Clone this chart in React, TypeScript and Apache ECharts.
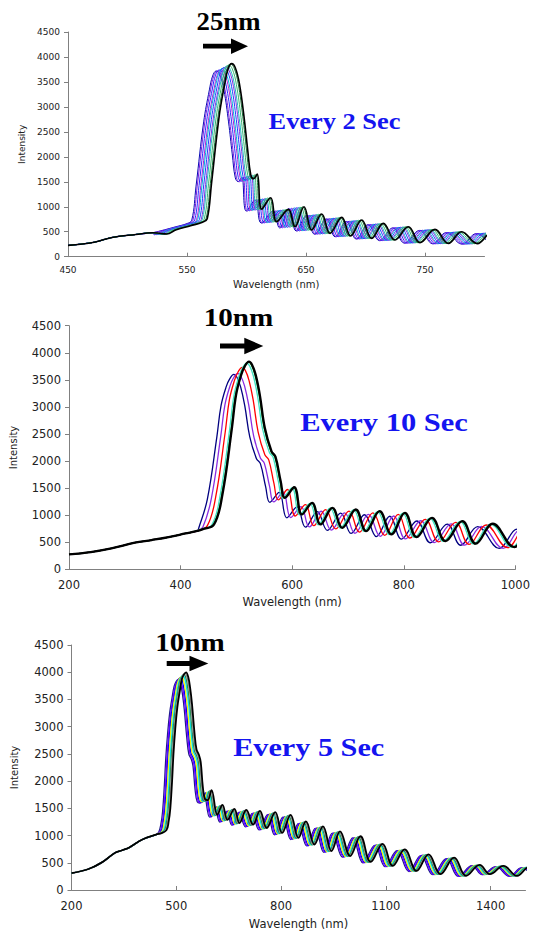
import React, { useEffect, useRef } from "react";
import * as echarts from "echarts";

// ---------- Panel 1 (Every 2 Sec) ----------
const P1_LEFT_X = [450, 472, 487, 507, 521];
const P1_LEFT_Y = [226, 290, 385, 445, 480];
const P1_BASE_X = [527, 533, 541, 553, 563, 567, 570.6, 577, 581.8, 584.5, 587.5, 590.5, 594, 597.9, 601, 603.6, 606, 609, 612.8, 620.3, 625.4, 635.2, 640.8, 648.3, 654.8, 663.2, 670.2, 680, 687.5, 696.8, 705.2, 715, 724.8, 736, 745.8, 758.4, 769.6, 780.8, 794, 806, 818];
const P1_BASE_Y = [470, 455, 540, 620, 690, 760, 1470, 2807, 3473, 3760, 3867, 3790, 3473, 2807, 2140, 1640, 1560, 1654, 950, 1181, 700, 947, 600, 1001, 534, 854, 467, 787, 414, 734, 367, 667, 334, 601, 281, 547, 267, 501, 262, 480, 250];
const P1_SHIFTS = [-13, -12, -10.5, -9, -8, -6.5, -5, -4, -2.5, -1, 0];
const P1_PEAKS = [3720, 3720, 3740, 3750, 3770, 3790, 3800, 3820, 3840, 3860, 3867];
const P1_COLORS = ["#0a0ab4", "#7b1fe0", "#2a2aff", "#b020d8", "#00b4d8", "#1e40ff", "#8a2be2", "#20c0c0", "#3cb371", "#1b7a3c", "#000000"];
const P1_TICKS = [450, 550, 650, 750];

// ---------- Panel 2 (Every 10 Sec) ----------
const P2_LEFT_X = [200, 239, 276, 318, 348, 378.5, 409, 430];
const P2_LEFT_Y = [276, 319, 387, 491, 540, 595, 663, 710];
const P2_BASE_X = [439, 460, 475, 492, 499.5, 508.6, 515, 522.5, 528, 534.6, 542, 551, 563, 570, 579.4, 587, 603.6, 617.5, 635.7, 650.8, 672, 690, 714, 732.5, 756.7, 777.9, 802, 823, 850.5, 874.7, 905, 929, 959.5, 998, 1030, 1062];
const P2_BASE_Y = [737, 829, 1381, 2609, 3223, 3591, 3750, 3837, 3780, 3591, 3223, 2609, 2179, 2080, 1627, 1320, 1516, 1013, 1228, 829, 1136, 767, 1105, 706, 1074, 645, 1044, 595, 951, 522, 890, 473, 841, 410, 790, 380];
const P2_SHIFTS = [-27, -20, -12, -4, -1, 0];
const P2_PEAKS = [3600, 3620, 3730, 3810, 3830, 3837];
const P2_COLORS = ["#000080", "#8a2be2", "#ff0000", "#40e0c0", "#008000", "#000000"];
const P2_TICKS = [200, 400, 600, 800, 1000];

// ---------- Panel 3 (Every 5 Sec) ----------
const P3_LEFT_X = [200, 247, 286, 325, 345, 364, 403, 442];
const P3_LEFT_Y = [310, 381, 503, 684, 730, 775, 927, 1018];
const P3_BASE_X = [458, 472, 478, 483, 488, 492, 497, 503, 510, 516, 522, 528, 534, 540, 545, 552, 558, 565, 570, 576, 582, 590, 601, 617.6, 632.2, 646.8, 666.3, 681, 700.5, 720, 739.5, 759, 783.4, 803, 827.3, 849.8, 871.2, 895.6, 920, 944.4, 968.8, 998, 1027.3, 1056.6, 1090.7, 1120, 1154, 1188.3, 1222.4, 1256.6, 1295.6, 1329.8, 1368.8, 1398, 1437, 1476, 1510, 1545];
const P3_BASE_Y = [1045, 1100, 1250, 1500, 2000, 2500, 2950, 3350, 3650, 3870, 3960, 3998, 3920, 3700, 3420, 2900, 2580, 2480, 2350, 1900, 1674, 1650, 1835, 1381, 1563, 1290, 1490, 1230, 1472, 1199, 1454, 1139, 1429, 1048, 1381, 957, 1260, 836, 1169, 715, 1078, 624, 987, 515, 848, 442, 745, 351, 654, 291, 594, 260, 460, 291, 442, 260, 420, 250];
const P3_SHIFTS = [-22, -19, -16, -13, -9, -6, -3, 0];
const P3_PEAKS = [3870, 3880, 3900, 3920, 3940, 3960, 3980, 3998];
const P3_COLORS = ["#1c1c8c", "#7f00ff", "#0000ff", "#f5f500", "#00e8e8", "#2e8b57", "#8c8c8c", "#000000"];
const P3_TICKS = [200, 500, 800, 1100, 1400];

function buildSeries(
  leftX: number[], leftY: number[], baseX: number[], baseY: number[],
  shifts: number[], peaks: number[], colors: string[],
  idx: number, width: number, blackWidth: number
) {
  const basePeak = Math.max(...baseY);
  const lastLeft = leftX[leftX.length - 1];
  return shifts.map((s, i) => {
    const k = peaks[i] / basePeak;
    const data: number[][] = leftX.map((x, j) => [x, leftY[j]]);
    baseX.forEach((x, j) => {
      const xs = x + s;
      if (xs > lastLeft) data.push([xs, Math.round(baseY[j] * k)]);
    });
    const isBlack = colors[i] === "#000000";
    return {
      type: "line",
      xAxisIndex: idx,
      yAxisIndex: idx,
      data,
      showSymbol: false,
      smooth: 0.4,
      silent: true,
      lineStyle: { color: colors[i], width: isBlack ? blackWidth : width },
      z: 2 + i,
    };
  });
}

const AXIS_COLOR = "#808080";
const LABEL_COLOR = "#222";
const FONT = "DejaVu Sans";
const plain = (v: number) => String(v);

function xAxisCfg(idx: number, min: number, max: number, ticks: number[], fs: number, nameFs: number, nameGap: number, margin: number) {
  return {
    gridIndex: idx, type: "value", min, max,
    axisLine: { show: true, lineStyle: { color: AXIS_COLOR, width: 1 } },
    axisTick: { show: true, inside: true, length: 4, customValues: ticks, lineStyle: { color: AXIS_COLOR } },
    axisLabel: { customValues: ticks, formatter: plain, fontSize: fs, color: LABEL_COLOR, fontFamily: FONT, margin },
    splitLine: { show: false },
    name: "Wavelength (nm)", nameLocation: "middle", nameGap,
    nameTextStyle: { fontSize: nameFs, color: LABEL_COLOR, fontFamily: FONT },
  };
}
function yAxisCfg(idx: number, fs: number, nameFs: number, nameGap: number) {
  return {
    gridIndex: idx, type: "value", min: 0, max: 4500, interval: 500,
    axisLine: { show: true, lineStyle: { color: AXIS_COLOR, width: 1 } },
    axisTick: { show: true, inside: false, length: 4, lineStyle: { color: AXIS_COLOR } },
    axisLabel: { formatter: plain, fontSize: fs, color: LABEL_COLOR, fontFamily: FONT, margin: 8 },
    splitLine: { show: false },
    name: "Intensity", nameLocation: "middle", nameRotate: 90, nameGap,
    nameTextStyle: { fontSize: nameFs, color: LABEL_COLOR, fontFamily: FONT },
  };
}

function arrow(x0: number, xHead: number, xTip: number, yc: number, shaftH: number, headH: number) {
  return {
    type: "polygon",
    shape: {
      points: [
        [x0, yc - shaftH / 2], [xHead, yc - shaftH / 2], [xHead, yc - headH / 2], [xTip, yc],
        [xHead, yc + headH / 2], [xHead, yc + shaftH / 2], [x0, yc + shaftH / 2],
      ],
    },
    style: { fill: "#000" },
    z: 100,
  };
}
function label(text: string, x: number, y: number, size: number, sx: number, color: string) {
  return {
    type: "text", x, y, scaleX: sx, z: 100,
    style: {
      text, fill: color,
      font: `bold ${size}px "Liberation Serif", "Times New Roman", serif`,
      align: "center", verticalAlign: "middle", textAlign: "center", textVerticalAlign: "middle",
    },
  };
}

export default function App() {
  const ref = useRef<HTMLDivElement>(null);
  useEffect(() => {
    if (!ref.current) return;
    const chart = echarts.init(ref.current, null, { renderer: "svg" });
    const BLUE = "#1414f0";
    const option = {
      animation: false,
      textStyle: { fontFamily: FONT },
      grid: [
        { left: 68, top: 32, width: 416.5, height: 224.7 },
        { left: 69, top: 325.7, width: 449.3, height: 243.6 },
        { left: 71.5, top: 645, width: 454, height: 246.5 },
      ],
      xAxis: [
        xAxisCfg(0, 450, 800, P1_TICKS, 9, 10, 23, 9),
        xAxisCfg(1, 200, 1000, P2_TICKS, 11.5, 11.5, 27, 10),
        xAxisCfg(2, 200, 1500, P3_TICKS, 11.5, 11.5, 28, 10),
      ],
      yAxis: [yAxisCfg(0, 9, 9, 38), yAxisCfg(1, 11.5, 10, 51), yAxisCfg(2, 11.5, 10, 52)],
      series: [
        ...buildSeries(P1_LEFT_X, P1_LEFT_Y, P1_BASE_X, P1_BASE_Y, P1_SHIFTS, P1_PEAKS, P1_COLORS, 0, 1, 1.6),
        ...buildSeries(P2_LEFT_X, P2_LEFT_Y, P2_BASE_X, P2_BASE_Y, P2_SHIFTS, P2_PEAKS, P2_COLORS, 1, 1.3, 2.3),
        ...buildSeries(P3_LEFT_X, P3_LEFT_Y, P3_BASE_X, P3_BASE_Y, P3_SHIFTS, P3_PEAKS, P3_COLORS, 2, 1.3, 1.8),
      ],
      graphic: [
        label("25nm", 228.5, 21.5, 26, 1.03, "#000"),
        arrow(203, 231, 248, 46.2, 4.8, 15.5),
        label("Every 2 Sec", 334.5, 120.5, 24, 1.1, BLUE),
        label("10nm", 238.5, 317.5, 26, 1.12, "#000"),
        arrow(220, 244.3, 263.3, 346, 5, 16.5),
        label("Every 10 Sec", 384, 422.5, 25, 1.22, BLUE),
        label("10nm", 190, 642, 26, 1.12, "#000"),
        arrow(166.7, 189.5, 208.3, 663.5, 4.8, 15.5),
        label("Every 5 Sec", 308.7, 747.5, 25, 1.21, BLUE),
      ],
    };
    chart.setOption(option as any);
    return () => chart.dispose();
  }, []);
  return <div ref={ref} style={{ position: "absolute", left: 0, top: 0, width: 533, height: 931 }} />;
}
